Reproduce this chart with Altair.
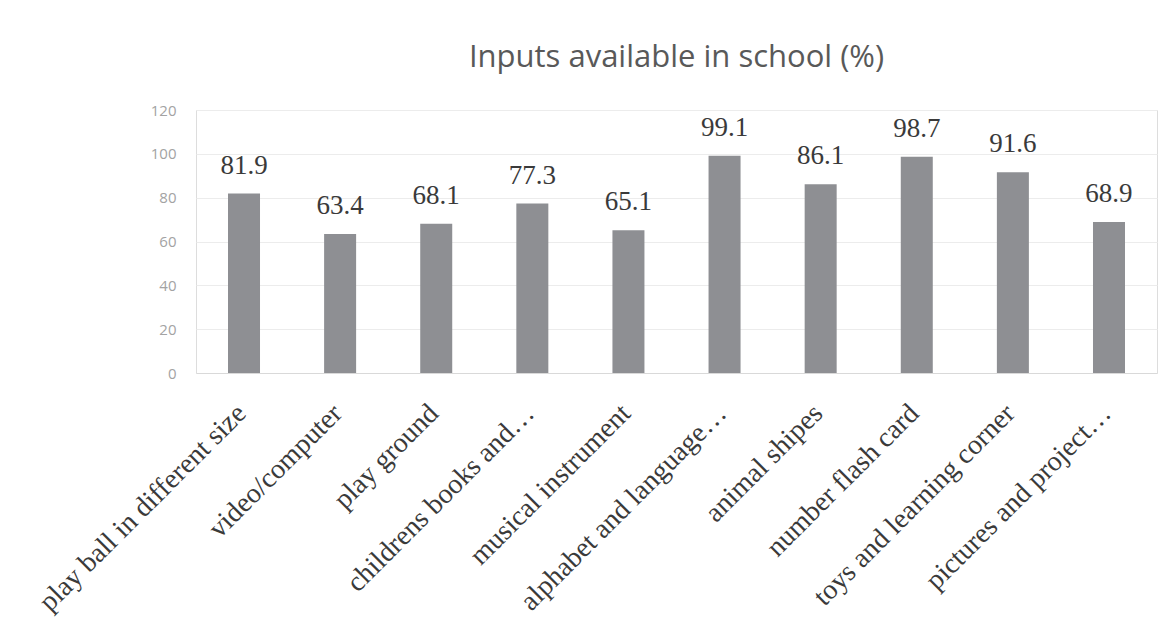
import altair as alt
import pandas as pd

# Share of schools where each learning input is available
items = [
    "play ball in different size",
    "video/computer",
    "play ground",
    "childrens books and…",
    "musical instrument",
    "alphabet and language…",
    "animal shipes",
    "number flash card",
    "toys and learning corner",
    "pictures and project…",
]
percent = [81.9, 63.4, 68.1, 77.3, 65.1, 99.1, 86.1, 98.7, 91.6, 68.9]

df = pd.DataFrame({"item": items, "pct": percent})

x = alt.X(
    "item:N",
    sort=items,
    title=None,
    scale=alt.Scale(paddingInner=0.667, paddingOuter=0.333),
    axis=alt.Axis(
        labelAngle=-45,
        labelFont="Liberation Serif",
        labelFontSize=28,
        labelColor="#3a3a3a",
        labelPadding=26,
        labelOffset=-12,
        labelLimit=500,
        ticks=False,
        domainColor="#d9d9d9",
        grid=False,
    ),
)
y = alt.Y(
    "pct:Q",
    title=None,
    scale=alt.Scale(domain=[0, 120]),
    axis=alt.Axis(
        values=[0, 20, 40, 60, 80, 100, 120],
        labelFont="Open Sans",
        labelFontSize=15,
        labelColor="#a3a3a3",
        labelPadding=20,
        ticks=False,
        domain=False,
        gridColor="#ececec",
    ),
)

bars = alt.Chart(df).mark_bar(color="#8e8f93").encode(x=x, y=y)

labels = alt.Chart(df).mark_text(
    font="Liberation Serif",
    fontSize=27,
    color="#3a3a3a",
    baseline="bottom",
    dy=-14,
).encode(x=alt.X("item:N", sort=items), y="pct:Q", text=alt.Text("pct:Q", format=".1f"))

chart = (
    alt.layer(bars, labels)
    .properties(
        width=961,
        height=263,
        title=alt.TitleParams(
            "Inputs available in school (%)",
            font="Open Sans",
            fontSize=31,
            fontWeight="normal",
            color="#595959",
            offset=29,
            anchor="middle",
        ),
        autosize=alt.AutoSizeParams(type="none"),
        padding={"left": 196, "top": 110, "right": 13, "bottom": 264},
    )
    .configure_view(stroke=None)
    .configure(background="white")
)

chart.save("out.html", embed_options={"renderer": "svg", "actions": False})
